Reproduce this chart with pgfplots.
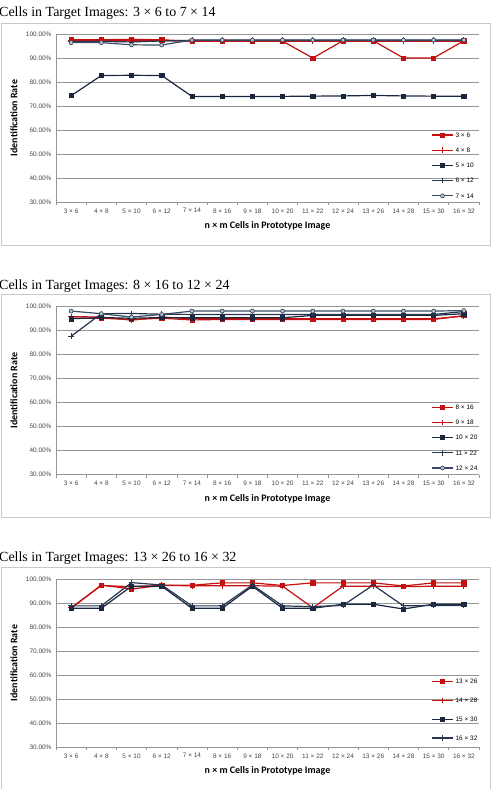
\documentclass[border=0pt]{standalone}
\usepackage{fontspec}
\setmainfont{Liberation Sans}
\newfontfamily\titlefont{Liberation Serif}
\newfontfamily\labfont{Carlito}
\usepackage{pgfplots}
\usepackage{pgfplotstable}
\pgfplotsset{compat=1.18}

\definecolor{myred}{RGB}{196,16,16}
\definecolor{navy}{RGB}{25,38,62}
\definecolor{navyb}{RGB}{38,54,80}
\definecolor{steel}{RGB}{58,76,100}
\definecolor{circfill}{RGB}{190,196,204}
\definecolor{gridgray}{RGB}{150,150,150}
\definecolor{axisgray}{RGB}{150,150,150}
\definecolor{framegray}{RGB}{200,200,200}
\definecolor{ticktext}{RGB}{70,70,70}

\pgfplotstableread{
x  a    b    c    d    e
0  97.6 97.2 74.3 96.9 96.4
1  97.6 97.2 82.7 96.9 96.4
2  97.8 97.2 82.8 96.7 95.5
3  97.6 97.2 82.7 97.1 95.4
4  97.0 97.0 74.0 97.4 97.5
5  97.0 97.0 74.0 97.4 97.5
6  97.0 97.0 74.0 97.4 97.5
7  97.0 97.0 74.0 97.4 97.5
8  90.0 97.0 74.1 97.4 97.5
9  97.2 97.0 74.2 97.4 97.5
10 97.2 97.0 74.4 97.4 97.5
11 90.0 97.0 74.2 97.4 97.5
12 90.0 97.0 74.1 97.4 97.5
13 97.2 97.0 74.1 97.4 97.5
}\tabA

\pgfplotstableread{
x  a    b    c    d    e
0  95.1 95.8 94.9 87.6 98.1
1  95.1 95.6 95.4 97.0 97.0
2  94.6 94.3 95.1 97.1 95.6
3  95.1 95.6 95.4 96.8 96.7
4  94.4 94.9 95.3 96.7 98.1
5  94.6 94.9 95.3 96.7 98.1
6  94.6 94.9 95.3 96.7 98.1
7  94.6 94.9 95.3 96.7 98.1
8  94.6 94.9 96.3 96.7 98.1
9  94.6 94.9 96.3 96.7 98.1
10 94.6 94.9 96.3 96.7 98.1
11 94.6 94.9 96.3 96.7 98.1
12 94.6 94.9 96.3 96.7 98.1
13 96.2 96.0 97.0 97.9 98.3
}\tabB

\pgfplotstableread{
x  a    b    c    d
0  87.8 88.0 87.8 88.8
1  97.5 97.3 87.8 88.8
2  95.8 96.8 97.0 98.5
3  97.4 97.3 97.0 97.5
4  97.4 97.2 87.8 88.8
5  98.4 97.2 87.8 88.8
6  98.4 97.2 97.0 97.5
7  97.3 97.0 87.8 88.8
8  98.4 88.0 87.8 88.5
9  98.4 97.0 89.5 89.0
10 98.4 97.0 89.5 97.5
11 97.1 96.8 87.5 88.8
12 98.4 97.0 89.5 89.0
13 98.4 97.0 89.5 89.0
}\tabC

\pgfplotsset{
  panel/.style={
    width=423bp, height=168bp, scale only axis,
    xmin=-0.5, xmax=13.5, ymin=30, ymax=100,
    xtick={0,...,13},
    xticklabels={3 × 6,4 × 8,5 × 10,6 × 12,7 × 14,8 × 16,9 × 18,10 × 20,11 × 22,12 × 24,13 × 26,14 × 28,15 × 30,16 × 32},
    ytick={30,40,...,100},
    yticklabels={30.00\%,40.00\%,50.00\%,60.00\%,70.00\%,80.00\%,90.00\%,100.00\%},
    minor xtick={-0.5,0.5,...,13.5},
    axis lines=left,
    axis line style={-, draw=axisgray, line width=0.7bp},
    ymajorgrids, grid style={draw=gridgray, line width=0.6bp},
    major tick length=0pt, minor tick length=3bp, tick align=outside,
    minor tick style={draw=axisgray, line width=0.6bp},
    ticklabel style={font=\fontsize{6.5}{7}\selectfont, text=ticktext},
    yticklabel style={xshift=-1bp},
    xticklabel style={yshift=-3bp},
    xlabel={n × m Cells in Prototype Image},
    ylabel={Identification Rate},
    label style={font=\labfont\bfseries\fontsize{10}{12}\selectfont, text=black},
    xlabel style={at={(axis description cs:0.5,-0.143)}, anchor=center},
    ylabel style={at={(axis description cs:-0.0995,0.5)}, anchor=center},
    legend cell align=left,
    legend image code/.code={\draw[mark repeat=2,mark phase=2] plot coordinates {(0bp,0bp) (10.5bp,0bp) (21bp,0bp)};},
    legend style={draw=none, fill=none, inner sep=0pt, anchor=south west,
      font=\fontsize{6.5}{7}\selectfont, column sep=2bp,
      nodes={inner sep=0pt, text height=4.6bp, text depth=0pt}},
  },
  redsq/.style={color=myred, line width=1.2bp, mark=square*, mark size=2.1bp, mark options={solid, line width=0.6bp}},
  redplus/.style={color=myred, line width=1.2bp, mark=+, mark size=2.8bp, mark options={line width=0.8bp}},
  navysq/.style={color=navy, line width=1.2bp, mark=square*, mark size=2.1bp, mark options={line width=0.6bp}},
  navyplus/.style={color=navyb, line width=1.2bp, mark=+, mark size=2.8bp, mark options={line width=0.8bp}},
  steelcirc/.style={color=steel, line width=1.2bp, mark=*, mark size=2.0bp, mark options={fill=circfill, draw=steel, line width=0.7bp}},
}

\begin{document}
\begin{tikzpicture}
\useasboundingbox (0,0) rectangle (493bp,-789bp);

% panel frames
\draw[framegray, line width=0.8bp] (1bp,-23bp) rectangle (490.5bp,-245bp);
\draw[framegray, line width=0.8bp] (1bp,-294bp) rectangle (490.5bp,-517bp);
\draw[framegray, line width=0.8bp] (1bp,-567bp) rectangle (490.5bp,-800bp);

% titles
\node[anchor=base west, inner sep=0pt, font=\titlefont\fontsize{14}{16}\selectfont] at (-1bp,-16.7bp) {Cells in Target Images: 3 × 6 to 7 × 14};
\node[anchor=base west, inner sep=0pt, font=\titlefont\fontsize{14}{16}\selectfont] at (-1bp,-289.2bp) {Cells in Target Images: 8 × 16 to 12 × 24};
\node[anchor=base west, inner sep=0pt, font=\titlefont\fontsize{14}{16}\selectfont] at (-1bp,-561.7bp) {Cells in Target Images: 13 × 26 to 16 × 32};

\begin{axis}[panel, at={(56bp,-202bp)}, anchor=south west,
  legend style={at={(0.887,0.022)}, row sep=10.1bp}]
\addplot[redsq] table[x=x,y=a]{\tabA};
\addplot[redplus] table[x=x,y=b]{\tabA};
\addplot[navysq] table[x=x,y=c]{\tabA};
\addplot[navyplus] table[x=x,y=d]{\tabA};
\addplot[steelcirc] table[x=x,y=e]{\tabA};
\legend{3 × 6,4 × 8,5 × 10,6 × 12,7 × 14}
\end{axis}

\begin{axis}[panel, at={(56bp,-474.5bp)}, anchor=south west,
  legend style={at={(0.887,0.024)}, row sep=10.1bp}]
\addplot[redsq] table[x=x,y=a]{\tabB};
\addplot[redplus] table[x=x,y=b]{\tabB};
\addplot[navysq] table[x=x,y=c]{\tabB};
\addplot[navyplus] table[x=x,y=d]{\tabB};
\addplot[steelcirc] table[x=x,y=e]{\tabB};
\legend{8 × 16,9 × 18,10 × 20,11 × 22,12 × 24}
\end{axis}

\begin{axis}[panel, at={(56bp,-747bp)}, anchor=south west,
  legend style={at={(0.887,0.036)}, row sep=13.7bp}]
\addplot[redsq] table[x=x,y=a]{\tabC};
\addplot[redplus] table[x=x,y=b]{\tabC};
\addplot[navysq] table[x=x,y=c]{\tabC};
\addplot[navyplus] table[x=x,y=d]{\tabC};
\legend{13 × 26,14 × 28,15 × 30,16 × 32}
\end{axis}
\end{tikzpicture}
\end{document}
